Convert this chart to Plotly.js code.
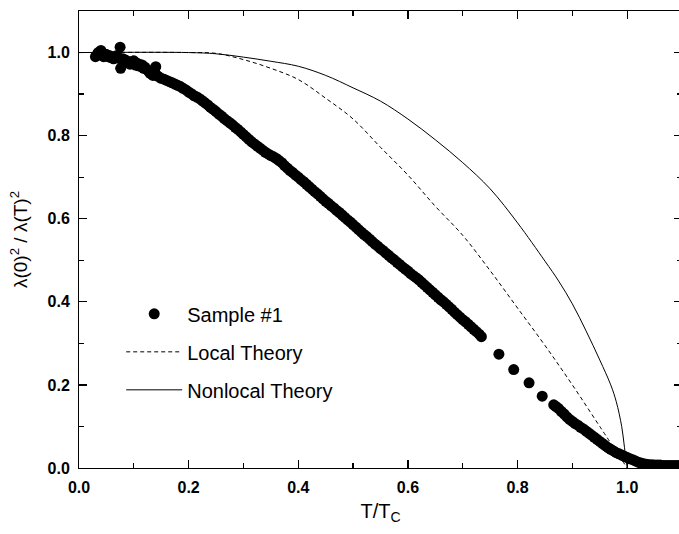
<!DOCTYPE html>
<html>
<head>
<meta charset="utf-8">
<script src="https://cdn.plot.ly/plotly-3.0.1.min.js"></script>
<style>
html,body{margin:0;padding:0;overflow:hidden;background:#fff;}
#chart{width:682px;height:534px;}
</style>
</head>
<body>
<div id="chart"></div>
<script>
const sampleT = [
0.030,0.033,0.035,0.038,0.040,0.043,0.045,0.048,0.050,0.053,0.055,0.058,0.060,0.063,0.065,0.068,0.070,0.073,0.075,0.076,0.078,0.080,0.083,0.085,0.088,0.090,0.093,0.095,0.098,0.100,0.103,0.105,0.108,0.110,0.113,0.115,0.118,0.120,0.123,0.125,0.128,0.130,0.133,0.135,0.138,0.140,0.143,0.145,
0.150,0.155,0.160,0.165,0.170,0.175,0.180,0.185,0.190,0.195,0.200,0.205,0.210,0.215,0.220,0.225,0.230,0.235,0.240,0.245,0.250,0.255,0.260,0.265,0.270,0.275,0.280,0.285,0.290,0.295,
0.300,0.305,0.310,0.315,0.320,0.325,0.330,0.335,0.340,0.345,0.350,0.355,0.360,0.365,0.370,0.375,0.380,0.385,0.390,0.395,
0.400,0.405,0.410,0.415,0.420,0.425,0.430,0.435,0.440,0.445,0.450,0.455,0.460,0.465,0.470,0.475,0.480,0.485,0.490,0.495,
0.500,0.505,0.510,0.515,0.520,0.525,0.530,0.535,0.540,0.545,0.550,0.555,0.560,0.565,0.570,0.575,0.580,0.585,0.590,0.595,
0.600,0.605,0.610,0.615,0.620,0.625,0.630,0.635,0.640,0.645,0.650,0.655,0.660,0.665,0.670,0.675,0.680,0.685,0.690,0.695,
0.700,0.705,0.710,0.715,0.720,0.725,0.730,0.734,
0.766,0.793,0.821,0.845,0.866,
0.870,0.875,0.880,0.885,0.890,0.895,0.900,0.905,0.910,0.915,0.920,0.925,0.930,0.935,0.940,0.945,0.950,0.955,0.960,0.965,0.970,0.975,0.980,0.985,0.990,0.995,
1.000,1.005,1.010,1.015,1.020,1.025,1.030,1.035,1.040,1.045,1.050,1.055,1.060,1.065,1.070,1.075,1.080,1.085,1.090,1.095,1.100];
const sampleY = [
0.990,0.995,1.000,0.997,1.005,0.992,0.990,0.996,0.995,0.990,0.993,0.988,0.990,0.985,0.988,0.992,0.990,0.986,1.013,0.962,0.983,0.985,0.978,0.982,0.976,0.978,0.972,0.975,0.979,0.980,0.970,0.975,0.968,0.972,0.966,0.970,0.962,0.965,0.960,0.958,0.953,0.950,0.948,0.945,0.955,0.966,0.944,0.942,
0.938,0.936,0.933,0.930,0.927,0.924,0.921,0.918,0.914,0.910,0.905,0.901,0.896,0.893,0.889,0.884,0.879,0.874,0.868,0.863,0.858,0.852,0.847,0.841,0.836,0.831,0.826,0.820,0.815,0.809,
0.803,0.797,0.791,0.785,0.780,0.775,0.770,0.765,0.760,0.756,0.752,0.749,0.745,0.740,0.735,0.728,0.722,0.716,0.711,0.705,
0.700,0.694,0.689,0.683,0.677,0.671,0.665,0.660,0.654,0.648,0.642,0.637,0.631,0.626,0.620,0.615,0.609,0.603,0.597,0.592,
0.586,0.580,0.574,0.568,0.562,0.557,0.551,0.545,0.539,0.534,0.528,0.523,0.517,0.512,0.506,0.501,0.495,0.490,0.484,0.479,
0.474,0.468,0.463,0.458,0.453,0.447,0.441,0.435,0.429,0.423,0.417,0.411,0.405,0.400,0.394,0.388,0.382,0.375,0.369,0.363,
0.357,0.352,0.346,0.340,0.334,0.328,0.322,0.316,
0.274,0.237,0.205,0.173,0.152,
0.148,0.143,0.136,0.130,0.123,0.117,0.112,0.107,0.103,0.098,0.094,0.089,0.084,0.079,0.074,0.069,0.064,0.059,0.054,0.049,0.045,0.041,0.037,0.034,0.031,0.028,
0.025,0.022,0.020,0.017,0.014,0.012,0.010,0.009,0.008,0.008,0.007,0.007,0.007,0.006,0.006,0.006,0.006,0.006,0.006,0.006,0.006];

// Local theory
const localT = [0,0.2,0.25,0.3,0.35,0.4,0.45,0.5,0.55,0.6,0.65,0.7,0.75,0.8,0.85,0.9,0.95,1.0];
const localY = [1.0,1.0,0.998,0.983,0.962,0.935,0.89,0.84,0.772,0.705,0.63,0.56,0.475,0.385,0.295,0.2,0.1,0.0];

// Nonlocal theory
const nonlocalT = [0,0.2,0.25,0.3,0.35,0.4,0.45,0.5,0.55,0.6,0.65,0.7,0.75,0.8,0.85,0.875,0.9,0.925,0.95,0.97,0.98,0.99,0.995,1.0];
const nonlocalY = [1.0,1.0,0.997,0.989,0.979,0.967,0.945,0.915,0.883,0.84,0.79,0.735,0.672,0.59,0.498,0.45,0.395,0.33,0.26,0.20,0.16,0.10,0.05,0.0];

const xTicks = [0.0,0.2,0.4,0.6,0.8,1.0];
const xTickText = ['0.0','0.2','0.4','0.6','0.8','1.0'];
const yTicks = [0.0,0.2,0.4,0.6,0.8,1.0];
const yTickText = ['0.0','0.2','0.4','0.6','0.8','1.0'];

const FONT = 'Arial, "Liberation Sans", sans-serif';

const traces = [
  {x: sampleT, y: sampleY, type:'scatter', mode:'markers', name:'Sample #1', legendgroup:'a',
   marker:{color:'#000', size:11, line:{width:0}}},
  {x: localT, y: localY, type:'scatter', mode:'lines', name:'Local Theory', legendgroup:'b',
   line:{color:'#000', width:1, dash:'4px,3px', shape:'spline'}},
  {x: nonlocalT, y: nonlocalY, type:'scatter', mode:'lines', name:'Nonlocal Theory', legendgroup:'c',
   line:{color:'#000', width:1, shape:'spline'}}
];

const axisCommon = {
  showgrid:false, zeroline:false, showline:true, linecolor:'#000', linewidth:1,
  mirror:'ticks', ticks:'inside', ticklen:8, tickwidth:1.2, tickcolor:'#000',
  tickfont:{family:FONT, size:16, color:'#000', weight:'bold'},
  minor:{ticks:'inside', ticklen:5, tickwidth:1.2, tickcolor:'#000', dtick:0.1}
};

const layout = {
  width:682, height:534,
  margin:{l:79, r:0, t:11, b:66},
  paper_bgcolor:'#fff', plot_bgcolor:'#fff',
  showlegend:true,
  legend:{x:0.07, y:0.38, xanchor:'left', yanchor:'top', bgcolor:'rgba(0,0,0,0)',
    font:{family:FONT, size:20, color:'#000'}, traceorder:'grouped', tracegroupgap:9, itemwidth:56},
  xaxis: Object.assign({}, axisCommon, {range:[0,1.1], tickvals:xTicks, ticktext:xTickText, ticklabelstandoff:5,
    title:{text:'T/T<sub>C</sub>', font:{family:FONT, size:20, color:'#000'}, standoff:8}}),
  yaxis: Object.assign({}, axisCommon, {range:[0,1.1], tickvals:yTicks, ticktext:yTickText, ticklabelstandoff:5,
    title:{text:'λ(0)<sup>2</sup> / λ(T)<sup>2</sup>', font:{family:FONT, size:19, color:'#000'}, standoff:14}})
};

Plotly.newPlot('chart', traces, layout, {displayModeBar:false, staticPlot:true});
</script>
</body>
</html>
